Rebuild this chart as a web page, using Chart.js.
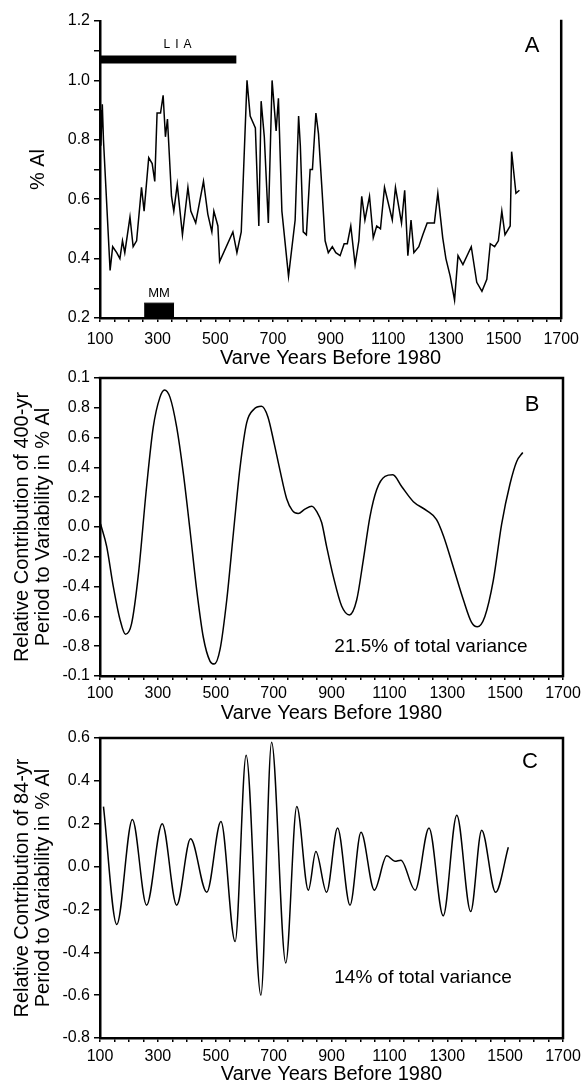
<!DOCTYPE html>
<html><head><meta charset="utf-8">
<script src="https://cdn.jsdelivr.net/npm/chart.js@4.4.1/dist/chart.umd.min.js"></script>
<style>
html,body{margin:0;padding:0;background:#fff;}
#wrap{position:relative;width:587px;height:1088px;overflow:hidden;}
canvas{position:absolute;left:0;top:0;}
</style></head><body>
<div id="wrap">
<canvas id="cA" width="587" height="1088"></canvas>
<canvas id="cB" width="587" height="1088"></canvas>
<canvas id="cC" width="587" height="1088"></canvas>
</div>
<script>
// ---------- DATA ----------
const xTickLabels = [100, 300, 500, 700, 900, 1100, 1300, 1500, 1700];
const xTitle = "Varve Years Before 1980";

// Panel A: % Al
const yearsA = [100,103,108,112,135,144,158,169,178,186,204,215,227,244,253,269,281,290,298,310,319,327,334,348,356,368,386,405,415,432,459,474,488,495,509,515,561,575,590,610,621,639,651,659,670,684,697,711,719,731,754,777,789,795,805,816,829,837,849,858,869,881,892,906,918,933,947,958,970,985,998,1008,1019,1035,1048,1060,1073,1087,1114,1125,1146,1157,1168,1179,1189,1206,1220,1235,1260,1272,1289,1300,1315,1330,1342,1359,1388,1407,1425,1442,1454,1469,1482,1494,1505,1523,1528,1543,1555];
const alA = [0.90,0.78,0.92,0.80,0.36,0.44,0.42,0.40,0.46,0.42,0.54,0.44,0.46,0.64,0.56,0.74,0.72,0.66,0.89,0.89,0.95,0.81,0.87,0.61,0.56,0.65,0.48,0.64,0.56,0.52,0.66,0.55,0.49,0.56,0.51,0.39,0.49,0.42,0.49,1.00,0.88,0.84,0.51,0.93,0.81,0.52,1.00,0.83,0.94,0.56,0.34,0.53,0.88,0.78,0.49,0.48,0.70,0.70,0.89,0.82,0.65,0.46,0.42,0.44,0.42,0.41,0.45,0.45,0.51,0.38,0.46,0.61,0.53,0.61,0.47,0.51,0.50,0.64,0.53,0.64,0.52,0.63,0.41,0.53,0.42,0.44,0.48,0.52,0.52,0.62,0.47,0.40,0.34,0.26,0.41,0.38,0.44,0.32,0.29,0.33,0.45,0.44,0.46,0.56,0.48,0.51,0.76,0.62,0.63];
const yTicksA = [0.2, 0.4, 0.6, 0.8, 1.0, 1.2];
const liaYears = [100, 573];
const liaLevel = [1.07, 1.07];
const mmYears = [253, 357];
const mmTop = [0.25, 0.25];
const mmBase = 0.2;

// Panel B: 400-yr component
const yearsB = [102,123,146,169,188,209,232,261,284,307,323,342,365,388,411,434,457,480,495,515,538,561,584,607,632,658,680,702,722,745,765,785,808,832,850,866,883,906,935,962,987,1010,1033,1056,1085,1112,1143,1183,1229,1263,1287,1321,1356,1384,1404,1430,1459,1488,1517,1540,1561];
const valB = [0.02,-0.13,-0.40,-0.62,-0.72,-0.65,-0.33,0.27,0.67,0.87,0.92,0.87,0.67,0.36,-0.02,-0.42,-0.74,-0.90,-0.92,-0.82,-0.49,-0.04,0.40,0.70,0.79,0.81,0.74,0.56,0.38,0.19,0.11,0.09,0.12,0.14,0.10,0.03,-0.13,-0.33,-0.53,-0.59,-0.49,-0.22,0.07,0.25,0.34,0.35,0.27,0.17,0.11,0.05,-0.06,-0.27,-0.49,-0.64,-0.67,-0.60,-0.36,0.02,0.29,0.44,0.50];
const yTickLabelsB = ["-0.1","-0.8","-0.6","-0.4","-0.2","0.0","0.2","0.4","0.6","0.8","0.1"];

// Panel C: 84-yr component
const yearsC = [112,158,212,261,315,365,413,469,518,567,605,656,693,742,780,820,846,883,921,964,1002,1048,1091,1119,1140,1189,1237,1286,1333,1381,1419,1467,1511];
const valC = [0.28,-0.27,0.22,-0.18,0.20,-0.18,0.13,-0.12,0.21,-0.35,0.52,-0.60,0.58,-0.45,0.28,-0.11,0.07,-0.12,0.18,-0.18,0.16,-0.11,0.05,0.025,0.03,-0.11,0.18,-0.23,0.24,-0.21,0.17,-0.12,0.09];
const yTicksC = [-0.8,-0.6,-0.4,-0.2,0.0,0.2,0.4,0.6];

// ---------- RENDER ----------
const FONT = "'Liberation Sans', Arial, Helvetica, sans-serif";
Chart.defaults.font.family = FONT;
Chart.defaults.color = '#000';

const pts = (xs, ys) => xs.map((x, i) => ({x, y: ys[i]}));

const framePlugin = {
  id: 'frame',
  afterDatasetsDraw(chart, args, opts) {
    const {ctx, chartArea: a} = chart;
    ctx.save();
    ctx.strokeStyle = '#000';
    ctx.lineWidth = opts.width || 2.5;
    ctx.lineCap = 'square';
    ctx.beginPath();
    if (opts.top) { ctx.moveTo(a.left, a.top); ctx.lineTo(a.right, a.top); }
    ctx.moveTo(a.right, a.top); ctx.lineTo(a.right, a.bottom);
    ctx.stroke();
    ctx.restore();
  }
};
const notesPlugin = {
  id: 'notes',
  afterDraw(chart, args, opts) {
    const ctx = chart.ctx;
    (opts.items || []).forEach(n => {
      ctx.save();
      ctx.font = n.size + 'px ' + FONT;
      ctx.fillStyle = '#000';
      ctx.textAlign = 'center';
      ctx.textBaseline = 'middle';
      if (n.spacing) ctx.letterSpacing = n.spacing + 'px';
      ctx.fillText(n.text, n.x, n.y);
      ctx.restore();
    });
  }
};

function makePanel(id, o) {
  return new Chart(document.getElementById(id), {
    type: 'line',
    data: { datasets: o.datasets },
    plugins: [framePlugin, notesPlugin],
    options: {
      responsive: false, animation: false, events: [],
      layout: { padding: { top: o.top, bottom: 1088 - o.boxBottom, left: 0, right: 24 } },
      plugins: {
        legend: { display: false }, tooltip: { enabled: false },
        frame: { top: o.frameTop, width: 2.5 },
        notes: { items: o.notes }
      },
      scales: {
        x: {
          type: 'linear', min: 100, max: 1700,
          afterFit: s => { s.height = o.boxBottom - o.bottom; },
          afterBuildTicks: s => { const t = []; for (let v = 100; v <= 1700; v += 50) t.push({value: v}); s.ticks = t; },
          ticks: { autoSkip: false, maxRotation: 0, minRotation: 0, padding: o.xpad, font: { size: 16 },
            callback: v => xTickLabels.includes(v) ? String(v) : '' },
          grid: { drawOnChartArea: false, tickLength: 4, color: '#000', lineWidth: 1.5 },
          border: { color: '#000', width: 2.5 },
          title: { display: true, text: xTitle, font: { size: 20, lineHeight: 1.05 }, padding: { top: 0, bottom: 0 } }
        },
        y: {
          type: 'linear', min: o.ymin, max: o.ymax,
          afterFit: s => { s.width = 100; },
          afterBuildTicks: s => { s.ticks = o.yTickValues.map(v => ({value: v})); },
          ticks: { autoSkip: false, padding: 4, font: { size: 16 }, callback: o.yLabel },
          grid: { drawOnChartArea: false, tickLength: 6, color: '#000', lineWidth: 1.5 },
          border: { color: '#000', width: 2.5 },
          title: { display: true, text: o.yTitle, font: { size: 20, lineHeight: 1.05 }, padding: { top: o.ytPad, bottom: 0 } }
        }
      }
    }
  });
}

const lineStyle = { borderColor: '#000', borderWidth: 1.5, pointRadius: 0, fill: false };

// Panel A
const yTickValuesA = [];
for (let i = 2; i <= 12; i++) yTickValuesA.push(i / 10);
makePanel('cA', {
  top: 21, bottom: 318, boxBottom: 369, xpad: 8,
  ymin: 0.2, ymax: 1.2, yTickValues: yTickValuesA,
  yLabel: v => yTicksA.some(t => Math.abs(t - v) < 1e-6) ? v.toFixed(1) : '',
  yTitle: '% Al', ytPad: 27.5, frameTop: false,
  datasets: [
    Object.assign({ data: pts(yearsA, alA), tension: 0 }, lineStyle),
    { data: pts(liaYears, liaLevel), borderColor: '#000', borderWidth: 8, borderCapStyle: 'butt', pointRadius: 0, fill: false },
    { data: pts(mmYears, mmTop), borderColor: '#000', borderWidth: 1, backgroundColor: '#000', pointRadius: 0, fill: { value: mmBase } }
  ],
  notes: [
    { text: 'LIA', x: 180, y: 45, size: 12, spacing: 5 },
    { text: 'MM', x: 159, y: 293, size: 13 },
    { text: 'A', x: 532, y: 46, size: 22 }
  ]
});

// Panel B
const yTickValuesB = [];
for (let i = -5; i <= 5; i++) yTickValuesB.push(i / 5);
makePanel('cB', {
  top: 378, bottom: 676, boxBottom: 724, xpad: 4,
  ymin: -1, ymax: 1, yTickValues: yTickValuesB,
  yLabel: (v, i) => yTickLabelsB[i],
  yTitle: ['Relative Contribution of 400-yr', 'Period to Variability in % Al'], ytPad: 11.5, frameTop: true,
  datasets: [ Object.assign({ data: pts(yearsB, valB), cubicInterpolationMode: 'monotone' }, lineStyle) ],
  notes: [
    { text: '21.5% of total variance', x: 431, y: 647, size: 19 },
    { text: 'B', x: 532, y: 405, size: 22 }
  ]
});

// Panel C
makePanel('cC', {
  top: 738, bottom: 1038, boxBottom: 1085, xpad: 5,
  ymin: -0.8, ymax: 0.6, yTickValues: yTicksC,
  yLabel: v => (Math.abs(v) < 1e-9 ? 0 : v).toFixed(1),
  yTitle: ['Relative Contribution of 84-yr', 'Period to Variability in % Al'], ytPad: 11.5, frameTop: true,
  datasets: [ Object.assign({ data: pts(yearsC, valC), cubicInterpolationMode: 'monotone' }, lineStyle) ],
  notes: [
    { text: '14% of total variance', x: 423, y: 978, size: 19 },
    { text: 'C', x: 530, y: 762, size: 22 }
  ]
});
</script>
</body></html>
